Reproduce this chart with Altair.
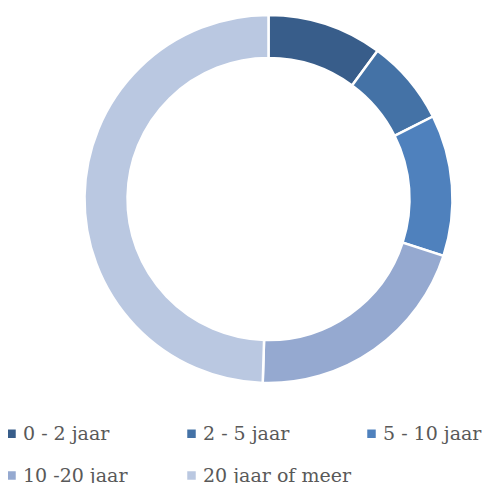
import altair as alt
import pandas as pd

categories = ["0 - 2 jaar", "2 - 5 jaar", "5 - 10 jaar", "10 -20 jaar", "20 jaar of meer"]
values = [10.1, 7.5, 12.4, 20.5, 49.5]
colors = ["#385D8A", "#4472A6", "#4F81BD", "#95A9D0", "#BAC8E1"]

df = pd.DataFrame({"cat": categories, "val": values, "ord": list(range(len(categories)))})

chart = alt.Chart(df).mark_arc(
    radius=184, radius2=141, stroke="white", strokeWidth=2.5
).encode(
    theta=alt.Theta("val:Q", stack=True),
    order=alt.Order("ord:Q"),
    x=alt.value(260.5),
    y=alt.value(191),
    color=alt.Color(
        "cat:N",
        sort=categories,
        scale=alt.Scale(domain=categories, range=colors),
        legend=alt.Legend(
            title=None,
            orient="none",
            direction="horizontal",
            legendX=-6,
            legendY=416,
            padding=0,
            columns=3,
            gridAlign="all",
            columnPadding=11,
            rowPadding=22,
            symbolType="square",
            symbolSize=72,
            symbolStrokeWidth=0,
            labelFont="DejaVu Serif",
            labelFontSize=19,
            labelColor="#595959",
            labelOffset=2,
            labelLimit=300,
        ),
    ),
).properties(
    width=476,
    height=475,
    autosize=alt.AutoSizeParams(type="none"),
    padding=0,
).configure_view(stroke=None)

chart.save("out.html", embed_options={"renderer": "svg", "actions": False})
